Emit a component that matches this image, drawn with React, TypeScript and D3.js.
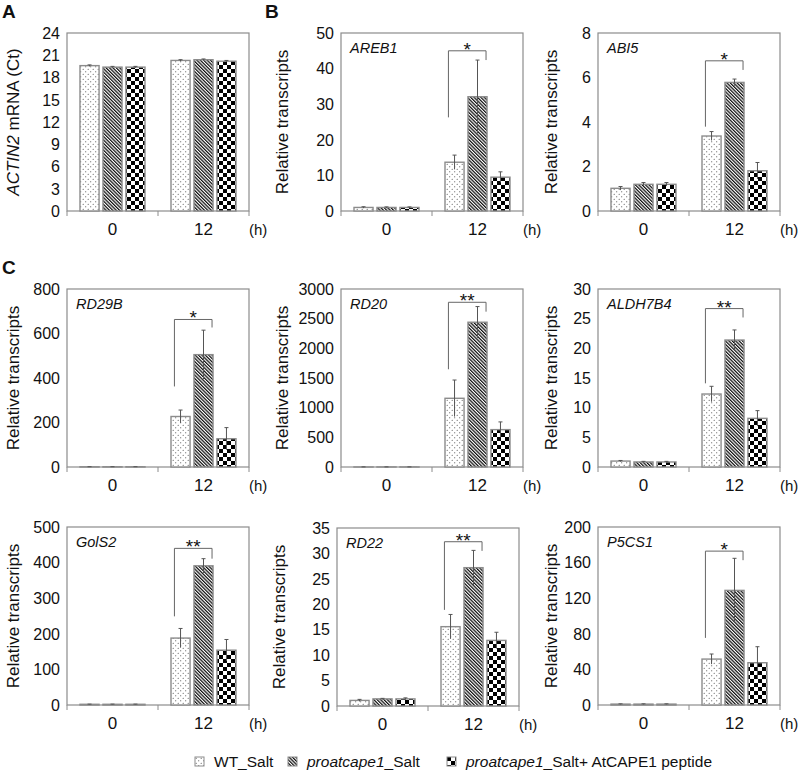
import React from "react";
import * as d3 from "d3";

// ---- data ----
const series = ["WT_Salt", "proatcape1_Salt", "proatcape1_Salt+ AtCAPE1 peptide"];
const times = ["0", "12"];

const genes = ["", "AREB1", "ABI5", "RD29B", "RD20", "ALDH7B4", "GolS2", "RD22", "P5CS1"];
const yMax = [24, 50, 8, 800, 3000, 30, 500, 35, 200];
const yStep = [3, 10, 2, 200, 500, 5, 100, 5, 40];

// means[panel][time][series]
const means = [
  [[19.6, 19.4, 19.4], [20.3, 20.4, 20.2]],
  [[1.0, 1.0, 1.0], [13.7, 32.1, 9.5]],
  [[1.02, 1.2, 1.2], [3.37, 5.78, 1.81]],
  [[1, 1, 1], [227, 505, 127]],
  [[1, 1, 1], [1158, 2440, 630]],
  [[1.0, 0.85, 0.85], [12.3, 21.4, 8.2]],
  [[2, 2, 2], [188, 391, 154]],
  [[1.1, 1.4, 1.4], [15.6, 27.2, 12.9]],
  [[1, 1, 1], [51.6, 128.8, 47.5]],
];
const errs = [
  [[0.1, 0.1, 0.1], [0.1, 0.1, 0.1]],
  [[0.2, 0.15, 0.15], [2.0, 10.3, 1.5]],
  [[0.08, 0.08, 0.08], [0.2, 0.15, 0.37]],
  [[0.3, 0.3, 0.3], [29, 110, 50]],
  [[1, 1, 1], [308, 264, 130]],
  [[0.1, 0.1, 0.1], [1.3, 1.7, 1.3]],
  [[0.5, 0.5, 0.5], [27, 20, 30]],
  [[0.2, 0.1, 0.2], [2.4, 3.4, 1.6]],
  [[0.3, 0.3, 0.3], [5.7, 36, 18]],
];
// significance brackets: [left foot, top, right foot, mark]
const brackets: (null | [number, number, number, string])[] = [
  null,
  [26.3, 45.0, 42.4, "*"],
  [3.79, 6.75, 6.34, "*"],
  [362, 663, 627, "*"],
  [1647, 2776, 2618, "**"],
  [14.1, 26.7, 25.2, "**"],
  [249, 440, 411, "**"],
  [18.9, 32.3, 30.5, "**"],
  [75.4, 172.9, 162.7, "*"],
];

// ---- layout ----
const panelLeft = [67, 341, 598, 67, 341, 598, 67, 337, 598];
const panelTop = [33, 33, 33, 289, 289, 289, 527, 528, 527];
const labelX = [13, 282, 551, 13, 282, 551, 13, 279, 551];
const W = 182;
const H = 178;
const FONT = "'Liberation Sans', Arial, sans-serif";
const fills = ["url(#dots)", "url(#stripes)", "url(#checks)"];
const GRAY = "#8c8c8c";
const INK = "#111";

function Panel({ i }: { i: number }) {
  const x0 = panelLeft[i];
  const y0 = panelTop[i];
  const y = d3.scaleLinear().domain([0, yMax[i]]).range([H, 0]);
  const xT = d3.scaleBand().domain(times).range([0, W]);
  const xS = d3
    .scaleBand()
    .domain(series)
    .range([13, xT.bandwidth() - 13])
    .paddingInner(0.17);
  const bw = xS.bandwidth();
  const ticks = d3.range(0, yMax[i] + yStep[i] / 2, yStep[i]);
  const br = brackets[i];

  return (
    <g transform={`translate(${x0},${y0})`}>
      <rect x={0} y={0} width={W} height={H} fill="none" stroke={GRAY} strokeWidth={1.2} />
      {/* x ticks at band edges */}
      {[0, ...times.map((t) => (xT(t) as number) + xT.bandwidth())].map((v, k) => (
        <line key={k} x1={v} x2={v} y1={H} y2={H + 5} stroke={GRAY} strokeWidth={1} />
      ))}
      {ticks.map((t) => (
        <text key={t} x={-7} y={y(t)} dy="0.36em" textAnchor="end" fontSize={16} fill={INK}>
          {t}
        </text>
      ))}
      {times.map((t, ti) => (
        <g key={t}>
          {series.map((s, si) => {
            const v = means[i][ti][si];
            const e = errs[i][ti][si];
            const bx = (xT(t) as number) + (xS(s) as number);
            const cx = bx + bw / 2;
            return (
              <g key={s}>
                <rect x={bx} y={y(v)} width={bw} height={H - y(v)} fill={fills[si]} stroke={GRAY} strokeWidth={1.4} />
                <line x1={cx} x2={cx} y1={y(v + e)} y2={y(Math.max(0, v - e))} stroke="#555" strokeWidth={1} />
                <line x1={cx - 2} x2={cx + 2} y1={y(v + e)} y2={y(v + e)} stroke="#555" strokeWidth={1} />
              </g>
            );
          })}
          <text x={(xT(t) as number) + xT.bandwidth() / 2} y={H + 24} textAnchor="middle" fontSize={17} fill={INK}>
            {t}
          </text>
        </g>
      ))}
      <text x={W} y={H + 24} fontSize={15} fill={INK}>(h)</text>
      {br && (() => {
        const xl = (xT("12") as number) + (xS(series[0]) as number) + bw * 0.18;
        const xr = (xT("12") as number) + (xS(series[1]) as number) + bw - 1;
        return (
          <g>
            <path
              d={`M${xl},${y(br[0])}V${y(br[1])}H${xr}V${y(br[2])}`}
              fill="none"
              stroke="#666"
              strokeWidth={1}
            />
            <text x={(xl + xr) / 2} y={y(br[1]) + 5} textAnchor="middle" fontSize={19} fill={INK}>
              {br[3]}
            </text>
          </g>
        );
      })()}
      {genes[i] && (
        <text x={9} y={20} fontSize={14.5} fontStyle="italic" fill={INK}>
          {genes[i]}
        </text>
      )}
      <text
        transform={`translate(${labelX[i] - x0},${H / 2}) rotate(-90)`}
        textAnchor="middle"
        dy="0.35em"
        fontSize={17}
        fill={INK}
      >
        {i === 0 ? (
          <>
            <tspan fontStyle="italic">ACTIN2</tspan> mRNA (Ct)
          </>
        ) : (
          "Relative transcripts"
        )}
      </text>
    </g>
  );
}

const legendX = [195, 288, 447];

export default function App() {
  return (
    <svg
      width={799}
      height={776}
      style={{ position: "absolute", left: 0, top: 0, background: "#fff" }}
      fontFamily={FONT}
    >
      <defs>
        <pattern id="dots" patternUnits="userSpaceOnUse" width={5} height={5}>
          <rect width={5} height={5} fill="#fff" />
          <circle cx={1.2} cy={1.2} r={0.55} fill="#444" />
          <circle cx={3.7} cy={3.7} r={0.55} fill="#444" />
        </pattern>
        <pattern id="stripes" patternUnits="userSpaceOnUse" width={2.4} height={10} patternTransform="rotate(-45)">
          <rect width={2.4} height={10} fill="#fff" />
          <rect width={1.25} height={10} fill="#111" />
        </pattern>
        <pattern id="checks" patternUnits="userSpaceOnUse" width={8} height={8}>
          <rect width={8} height={8} fill="#fff" />
          <rect width={4} height={4} fill="#000" />
          <rect x={4} y={4} width={4} height={4} fill="#000" />
        </pattern>
      </defs>
      <rect width={799} height={776} fill="#fff" />
      <text x={2} y={18} fontSize={19} fontWeight="bold" fill={INK}>A</text>
      <text x={265} y={18} fontSize={19} fontWeight="bold" fill={INK}>B</text>
      <text x={2} y={274} fontSize={19} fontWeight="bold" fill={INK}>C</text>
      {genes.map((_, i) => (
        <Panel key={i} i={i} />
      ))}
      {series.map((s, si) => (
        <g key={s} transform={`translate(${legendX[si]},757)`}>
          <rect width={9} height={9} fill={fills[si]} stroke={GRAY} strokeWidth={1} />
          <text x={19} y={10} fontSize={15.5} fill={INK}>
            {si === 0 ? (
              "WT_Salt"
            ) : (
              <>
                <tspan fontStyle="italic">proatcape1</tspan>
                {s.replace("proatcape1", "")}
              </>
            )}
          </text>
        </g>
      ))}
    </svg>
  );
}
